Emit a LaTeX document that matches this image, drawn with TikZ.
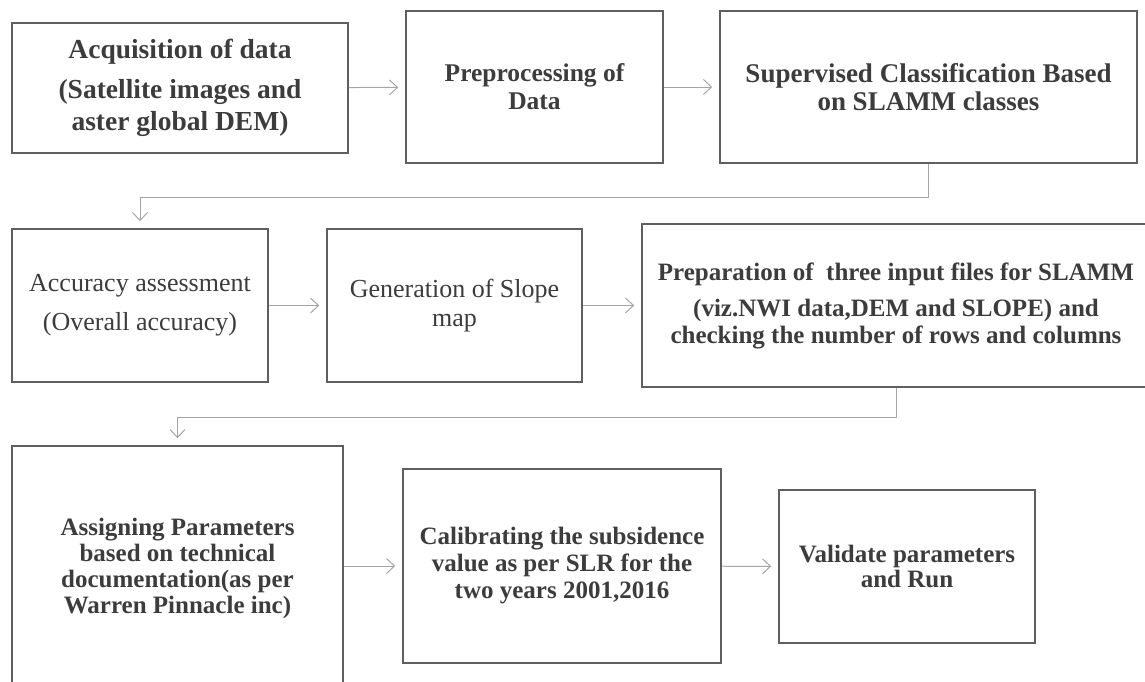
\documentclass[tikz,border=0pt]{standalone}
\usepackage{fontspec}
\setmainfont{Liberation Serif}
\usepackage{tikz}
\usetikzlibrary{arrows.meta}
\usetikzlibrary{calc}

\definecolor{boxline}{RGB}{95,95,95}
\definecolor{flowline}{RGB}{165,165,165}
\definecolor{inktext}{RGB}{60,60,60}

\tikzset{
    stage/.style={draw=boxline, line width=1.6pt, fill=white, align=center,
        inner sep=0pt, text=inktext},
    bigtxt/.style={font=\fontsize{27.5}{32}\selectfont\bfseries},
    midtxt/.style={font=\fontsize{25}{27}\selectfont\bfseries},
    plaintxt/.style={font=\fontsize{26}{29}\selectfont},
    flow/.style={draw=flowline, line width=1pt,
        -{Straight Barb[length=8pt,width=15pt,line width=1pt]}, shorten >=7pt}
}

\begin{document}
\begin{tikzpicture}[x=1pt,y=-1pt]
            % Fix the frame of the picture
            \useasboundingbox (0,0) rectangle (1145,681);

            % Draw the first row of stages
            \node[stage,bigtxt,minimum width=336pt,minimum height=130pt] (acq) at (180,88)
                {Acquisition of data\\[8pt](Satellite images and\\aster global DEM)};
            \node[stage,bigtxt,minimum width=257pt,minimum height=152pt,
                font=\fontsize{25.5}{28}\selectfont\bfseries] (prep) at (534.5,87)
                {Preprocessing of\\Data};
            \node[stage,bigtxt,minimum width=417pt,minimum height=152pt,
                font=\fontsize{27}{28}\selectfont\bfseries] (sup) at (928.5,87)
                {Supervised Classification Based\\on SLAMM classes};

            % Draw the second row of stages
            \node[stage,plaintxt,minimum width=256pt,minimum height=153pt] (acc) at (140,305.5)
                {Accuracy assessment\\[10pt](Overall accuracy)};
            \node[stage,plaintxt,minimum width=255pt,minimum height=153pt] (slope) at (454.5,305.5)
                {Generation of Slope\\map};
            \node[stage,midtxt,minimum width=508pt,minimum height=163pt] (files) at (896,305.5)
                {Preparation of \ three input files for SLAMM\\[9pt](viz.NWI data,DEM and SLOPE) and\\checking the number of rows and columns};

            % Draw the third row of stages
            \node[stage,midtxt,minimum width=331pt,minimum height=244pt,
                font=\fontsize{25}{26}\selectfont\bfseries] (assign) at (177.5,568)
                {Assigning Parameters\\based on technical\\documentation(as per\\Warren Pinnacle inc)};
            \node[stage,midtxt,minimum width=318pt,minimum height=194pt] (calib) at (562,566)
                {Calibrating the subsidence\\value as per SLR for the\\two years 2001,2016};
            \node[stage,midtxt,minimum width=256pt,minimum height=153pt,
                font=\fontsize{25}{25}\selectfont\bfseries] (valid) at (907,566.5)
                {Validate parameters\\and Run};

            % Draw the flow
            \draw[flow] (acq) -- (prep);
            \draw[flow] (prep) -- (sup);
            \draw[flow] (sup.south) -- ++(0,34) -| (acc.north);
            \draw[flow] (acc) -- (slope);
            \draw[flow] (slope) -- (files);
            \draw[flow] (files.south) -- ++(0,30) -| (assign.north);
            \draw[flow] (assign.east |- calib) -- (calib);
            \draw[flow] (calib) -- (valid);

\end{tikzpicture}
\end{document}
